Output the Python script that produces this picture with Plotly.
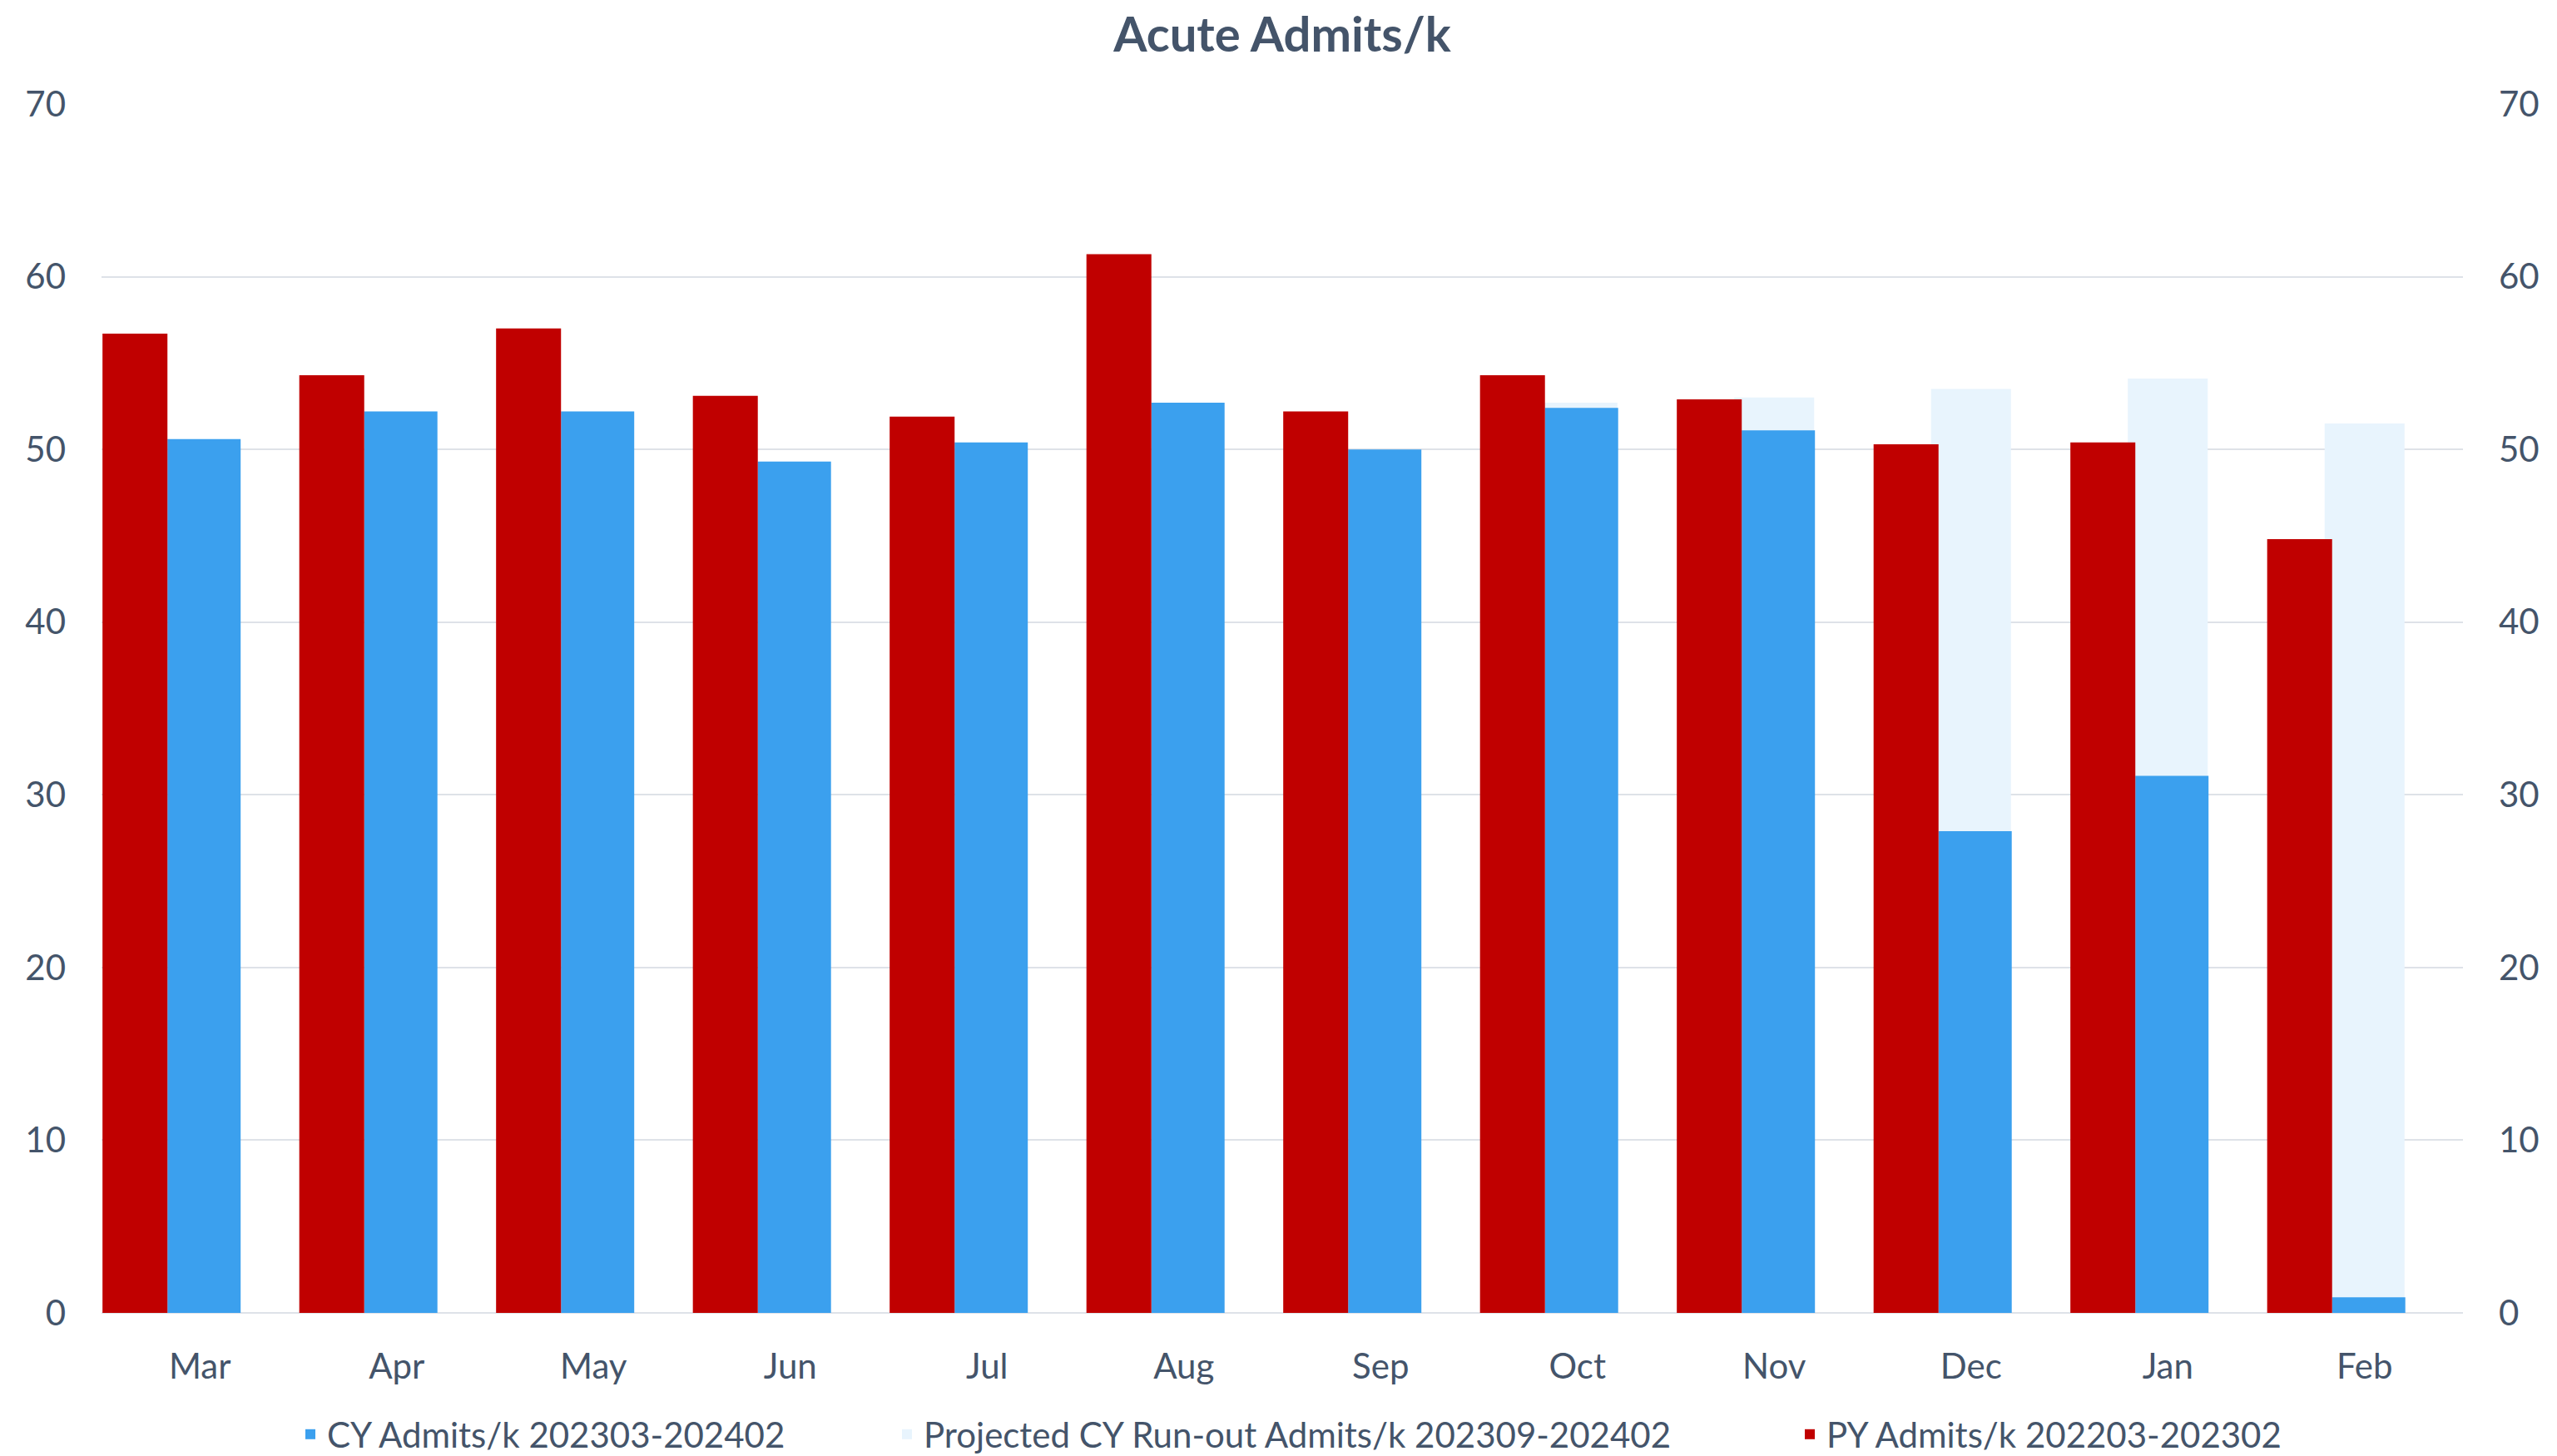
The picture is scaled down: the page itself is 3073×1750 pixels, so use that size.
import plotly.graph_objects as go

# Monthly acute admits per thousand
months = ["Mar", "Apr", "May", "Jun", "Jul", "Aug", "Sep", "Oct", "Nov", "Dec", "Jan", "Feb"]
py_admits = [56.7, 54.3, 57.0, 53.1, 51.9, 61.3, 52.2, 54.3, 52.9, 50.3, 50.4, 44.8]
cy_admits = [50.6, 52.2, 52.2, 49.3, 50.4, 52.7, 50.0, 52.4, 51.1, 27.9, 31.1, 0.9]
projected_admits = [None, None, None, None, None, None, None, 52.7, 53.0, 53.5, 54.1, 51.5]

series_names = {
    "cy": "CY Admits/k 202303-202402",
    "proj": "Projected CY Run-out Admits/k 202309-202402",
    "py": "PY Admits/k 202203-202302",
}

RED = "#C00000"
BLUE = "#3BA0EE"
LIGHT = "#E8F4FD"
TEXT = "#44546A"
GRID = "#DEE2E8"
FONT = "Lato"

W, H = 3073, 1750

fig = go.Figure()

# Projected run-out sits behind the current-year bar
fig.add_trace(go.Bar(
    x=months, y=projected_admits, name=series_names["proj"],
    marker=dict(color=LIGHT, line=dict(width=0)),
    width=0.406, offset=-0.203, legend="legend2",
))
fig.add_trace(go.Bar(
    x=months, y=cy_admits, name=series_names["cy"],
    marker=dict(color=BLUE, line=dict(width=0)),
    width=0.372, offset=-0.165, legend="legend",
))
fig.add_trace(go.Bar(
    x=months, y=py_admits, name=series_names["py"],
    marker=dict(color=RED, line=dict(width=0)),
    width=0.33, offset=-0.495, legend="legend3",
))
# Invisible trace to carry the right-hand axis
fig.add_trace(go.Scatter(x=months, y=py_admits, yaxis="y2", mode="none",
                         showlegend=False, hoverinfo="skip"))

tickfont = dict(family=FONT, size=42, color=TEXT)
legend_common = dict(
    orientation="h", xref="container", yref="container",
    yanchor="middle", y=1 - 1724 / H, xanchor="left",
    font=tickfont, bgcolor="rgba(0,0,0,0)", borderwidth=0,
)

fig.update_layout(
    width=W, height=H,
    margin=dict(l=122, r=113, t=125, b=172),
    paper_bgcolor="white", plot_bgcolor="white",
    barmode="overlay",
    title=dict(text="<b>Acute Admits/k</b>", x=0.5, xref="paper",
               y=1 - 42 / H, yref="container", yanchor="middle", xanchor="center",
               font=dict(family=FONT, size=58, color=TEXT)),
    xaxis=dict(type="category", range=[-0.5, 11.5], showgrid=False,
               showline=False, zeroline=False, ticks="",
               tickfont=tickfont, ticklabelstandoff=36),
    yaxis=dict(range=[0, 70], dtick=10, tick0=0, showgrid=True,
               gridcolor=GRID, gridwidth=2, zeroline=True,
               zerolinecolor=GRID, zerolinewidth=2, showline=False,
               ticks="", tickfont=tickfont, ticklabelstandoff=42),
    yaxis2=dict(range=[0, 70], dtick=10, tick0=0, overlaying="y",
                side="right", showgrid=False, zeroline=False, showline=False,
                ticks="", tickfont=tickfont, ticklabelstandoff=42),
    legend=dict(x=(393 - 40) / W, **legend_common),
    legend2=dict(x=(1110 - 40) / W, **legend_common),
    legend3=dict(x=(2195 - 40) / W, **legend_common),
    showlegend=True,
)

fig.write_html("out.html")
